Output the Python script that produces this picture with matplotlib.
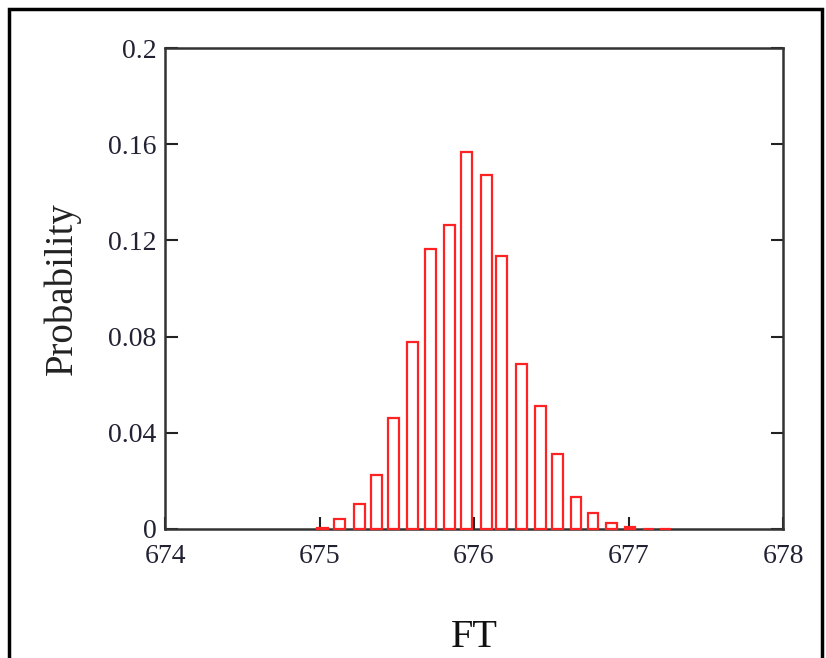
import matplotlib.pyplot as plt
from matplotlib.patches import Rectangle

# bin centres and probabilities
ft = [675.02, 675.13, 675.26, 675.37, 675.48, 675.60, 675.72, 675.84, 675.95, 676.08,
      676.18, 676.31, 676.43, 676.54, 676.66, 676.77, 676.89, 677.01, 677.13, 677.24]
prob = [0.0006, 0.0041, 0.0103, 0.0223, 0.046, 0.0779, 0.1163, 0.1266, 0.1567, 0.147,
        0.1134, 0.0684, 0.051, 0.031, 0.0132, 0.0066, 0.0025, 0.0008, 0.0002, 0.0001]

xticks = [674, 675, 676, 677, 678]
yticks = [0, 0.04, 0.08, 0.12, 0.16, 0.2]
ylabels = ['0', '0.04', '0.08', '0.12', '0.16', '0.2']

plt.rcParams['font.family'] = ['Liberation Serif', 'DejaVu Serif']

fig = plt.figure(figsize=(8.26, 6.58), dpi=100)
ax = fig.add_axes([165 / 826, 1 - 529 / 658, (783 - 165) / 826, (529 - 48) / 658])

ax.bar(ft, prob, width=0.07, facecolor='white', edgecolor='#ff2222',
       linewidth=1.6, zorder=3, clip_on=False)

ax.set_xlim(674, 678)
ax.set_ylim(0, 0.2)
ax.set_xticks(xticks)
ax.set_xticklabels([str(v) for v in xticks])
ax.set_yticks(yticks)
ax.set_yticklabels(ylabels)
ax.tick_params(axis='both', direction='in', length=9, width=1.5, labelsize=20,
               colors='#222222', labelcolor='#222233')
ax.tick_params(axis='y', right=True, pad=6)
ax.tick_params(axis='x', pad=11)
for s in ax.spines.values():
    s.set_linewidth(1.8)
    s.set_color('#333333')

ax.set_xlabel('FT', fontsize=29, labelpad=36, color='#111111')
ax.set_ylabel('Probability', fontsize=28, labelpad=20, color='#222222')

# outer frame around the picture
fig.patches.append(Rectangle((9 / 826, -0.05), (822 - 9) / 826, 1.05 - 9 / 658,
                             transform=fig.transFigure, fill=False,
                             edgecolor='black', linewidth=2.5))

fig.savefig('out.png', dpi=100)
